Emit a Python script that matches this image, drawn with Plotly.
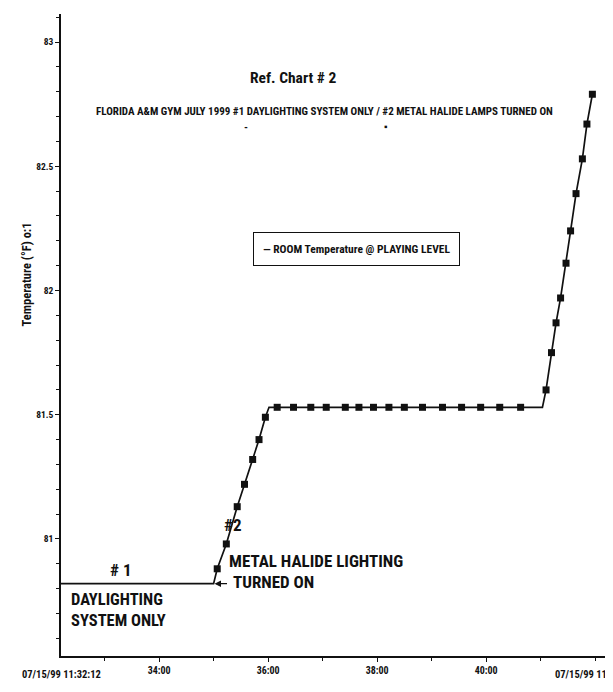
import plotly.graph_objects as go

# ---- data ----
DAY = "1999-07-15 "
times = ["11:32:12", "11:35:00", "11:35:04", "11:35:14", "11:35:26", "11:35:34", "11:35:43",
         "11:35:50", "11:35:57", "11:36:01",
         "11:36:10", "11:36:28", "11:36:47", "11:37:04", "11:37:25", "11:37:40", "11:37:56",
         "11:38:13", "11:38:30", "11:38:50", "11:39:12", "11:39:33", "11:39:54", "11:40:15",
         "11:40:38", "11:41:02",
         "11:41:06", "11:41:12", "11:41:17", "11:41:22", "11:41:28", "11:41:33", "11:41:39",
         "11:41:46", "11:41:51", "11:41:57"]
temps = [80.82, 80.82, 80.88, 80.98, 81.13, 81.22, 81.32, 81.40, 81.49, 81.53,
         81.53, 81.53, 81.53, 81.53, 81.53, 81.53, 81.53, 81.53, 81.53, 81.53, 81.53,
         81.53, 81.53, 81.53, 81.53, 81.53,
         81.60, 81.75, 81.87, 81.97, 82.11, 82.24, 82.39, 82.53, 82.67, 82.79]
marked = [0, 0, 1, 1, 1, 1, 1, 1, 1, 0,
          1, 1, 1, 1, 1, 1, 1, 1, 1, 1, 1, 1, 1, 1, 1, 0,
          1, 1, 1, 1, 1, 1, 1, 1, 1, 1]
x_ticks = ["11:34:00", "11:36:00", "11:38:00", "11:40:00"]
x_tick_labels = ["34:00", "36:00", "38:00", "40:00"]
y_ticks = [81, 81.5, 82, 82.5, 83]
y_tick_labels = ["81", "81.5", "82", "82.5", "83"]
x_start, x_end = "11:32:12", "11:42:12"
start_label = "07/15/99 11:32:12"
end_label = "07/15/99 11:"
series_name = "ROOM Temperature @ PLAYING LEVEL"

FONT = "Liberation Sans Narrow, Arial Narrow, Roboto Condensed, Liberation Sans, sans-serif"
INK = "#111"
x_full = [DAY + t for t in times]
mx = [x for x, m in zip(x_full, marked) if m]
my = [y for y, m in zip(temps, marked) if m]

fig = go.Figure()
fig.add_trace(go.Scatter(x=x_full, y=temps, mode="lines", name=series_name, showlegend=False,
                         line=dict(color=INK, width=1.7)))
fig.add_trace(go.Scatter(x=mx, y=my, mode="markers", showlegend=False, name=series_name,
                         marker=dict(symbol="square", size=7, color=INK)))

def txt(s, size, **kw):
    d = dict(text=s, showarrow=False, font=dict(family=FONT, size=size, color=INK, weight="bold"))
    d.update(kw)
    return d

ann = [
    txt("Ref. Chart # 2", 15.5, xref="paper", yref="paper", x=0.4257, y=0.9174),
    txt("FLORIDA A&M GYM JULY 1999 #1 DAYLIGHTING SYSTEM ONLY / #2 METAL HALIDE LAMPS TURNED ON", 11,
        xref="paper", yref="paper", x=0.4826, y=0.8614),
    txt("-", 11, xref="paper", yref="paper", x=0.3394, y=0.8364),
    txt("\u25aa", 10, xref="paper", yref="paper", x=0.5963, y=0.8364),
    # legend box
    txt("\u2014 " + series_name, 11.5, xref="paper", yref="paper", x=0.5422, y=0.634,
        bordercolor=INK, borderwidth=1, borderpad=9, bgcolor="white"),
    # y-axis title
    txt("Temperature (\u00b0F) o:1", 12.5, xref="paper", yref="paper", x=-0.0807, y=0.5935,
        textangle=-90),
    txt("# 1", 17, x=DAY + "11:33:17", y=80.875),
    txt("DAYLIGHTING<br>SYSTEM ONLY", 16.5, x=DAY + "11:32:21", y=80.716, xanchor="left", align="left"),
    txt("#2", 17, x=DAY + "11:35:21", y=81.056),
    txt("METAL HALIDE LIGHTING", 17, x=DAY + "11:35:15", y=80.911, xanchor="left"),
    txt("TURNED ON", 17, x=DAY + "11:35:19", y=80.827, xanchor="left"),
    dict(x=DAY + "11:35:01", y=80.82, ax=14, ay=0, text="", showarrow=True,
         arrowhead=2, arrowsize=1, arrowwidth=1.3, arrowcolor=INK),
    txt(start_label, 10.5, x=DAY + x_start, xref="x", yref="paper", y=-0.042),
    txt(end_label, 10.5, xref="paper", yref="paper", x=0.9028, y=-0.042, xanchor="left"),
]

fig.update_layout(
    width=605, height=684,
    margin=dict(l=53, r=7, t=6, b=36, autoexpand=False),
    paper_bgcolor="white", plot_bgcolor="white",
    font=dict(family=FONT, color=INK),
    annotations=ann,
    showlegend=False,
    xaxis=dict(type="date", range=[DAY + x_start, DAY + x_end], automargin=False,
               tickvals=[DAY + t for t in x_ticks], ticktext=x_tick_labels,
               ticks="outside", ticklen=4, tickcolor=INK,
               minor=dict(dtick=60000, ticks="outside", ticklen=3, tickcolor=INK),
               showline=True, linecolor=INK, linewidth=1.5,
               showgrid=False, zeroline=False,
               tickfont=dict(family=FONT, size=10, weight="bold")),
    yaxis=dict(range=[80.529, 83.113], tickvals=y_ticks, ticktext=y_tick_labels, automargin=False,
               ticks="outside", ticklen=4, tickcolor=INK,
               minor=dict(dtick=0.1, tick0=81, ticks="outside", ticklen=3, tickcolor=INK),
               showline=True, linecolor=INK, linewidth=1.5,
               showgrid=False, zeroline=False,
               tickfont=dict(family=FONT, size=9.5, weight="bold")),
)

fig.write_html("out.html")
